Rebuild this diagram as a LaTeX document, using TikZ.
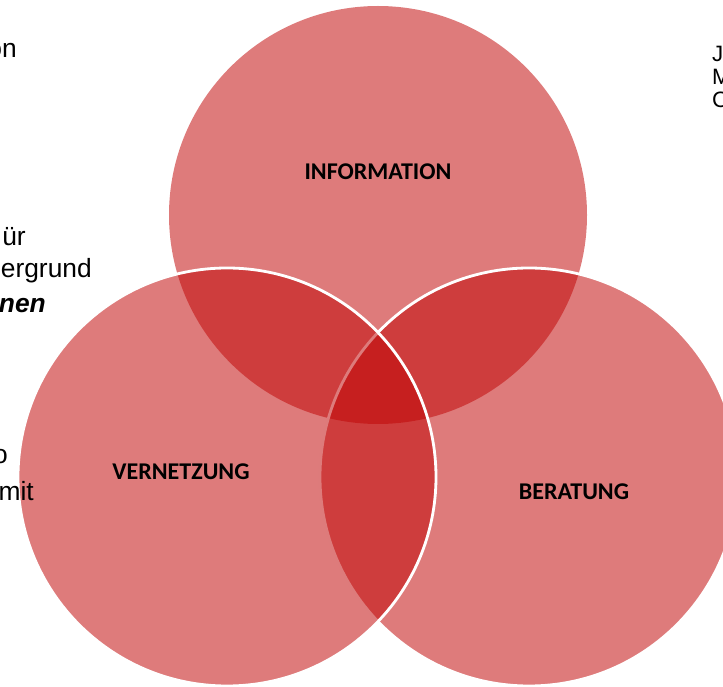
\documentclass[tikz,border=0pt]{standalone}
\usepackage{fontspec}
\setmainfont{Liberation Sans}
\newfontfamily\labelfont{Carlito}
\definecolor{vennred}{RGB}{192,6,6}

\begin{document}
\begin{tikzpicture}[x=0.3mm,y=0.3mm]
    \useasboundingbox (0,0) rectangle (723,686);
    \clip (0,0) rectangle (723,686);
    % the three circles
    \begin{scope}[every node/.style={circle,inner sep=0pt,minimum size=125.4mm,
            fill=vennred,fill opacity=0.53,draw opacity=1,line width=2.4pt}]
        \node (info) at (378,471) {};
        \node[draw=white] (berat) at (529,209) {};
        \node[draw=white] (vern) at (227,209) {};
    \end{scope}
    % text fragments at the edges
    \begin{scope}[every node/.style={inner sep=0pt,font=\fontsize{22.5}{27}\selectfont}]
        \node[anchor=base east] (t1) at (17,628) {on};
        \node[anchor=base east] (t2) at (26,440) {ür};
        \node[anchor=base east] (t3) at (92,408) {ergrund};
        \node[anchor=base east] (t4) at (46,374) {\bfseries\itshape nen};
        \node[anchor=base east] (t5) at (8,223) {o};
        \node[anchor=base east] (t6) at (34,186) {mit};
    \end{scope}
    \begin{scope}[every node/.style={inner sep=0pt,anchor=base west,font=\fontsize{19}{22}\selectfont}]
        \node (t7) at (712,624) {J};
        \node (t8) at (712,601) {M};
        \node (t9) at (712,578) {C};
    \end{scope}
    % labels
    \begin{scope}[every node/.style={font=\labelfont\bfseries\fontsize{20.5}{24}\selectfont}]
        \node (infolabel) at (378,514) {INFORMATION};
        \node (vernlabel) at (181,214) {VERNETZUNG};
        \node (beratlabel) at (574,194) {BERATUNG};
    \end{scope}
\end{tikzpicture}
\end{document}
